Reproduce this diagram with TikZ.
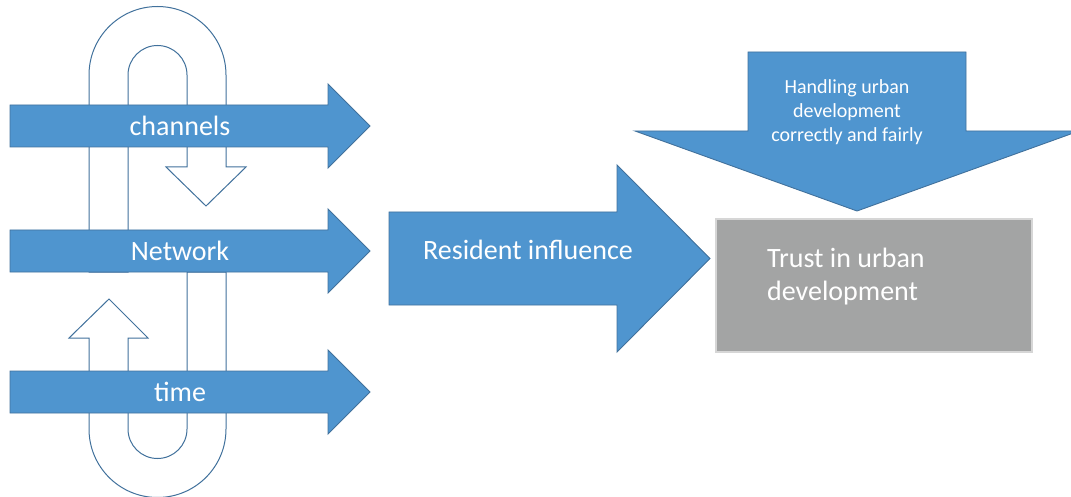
\documentclass[tikz,border=0pt]{standalone}
\usepackage{fontspec}
\setmainfont{Carlito}
\usetikzlibrary{positioning}
\definecolor{shapeblue}{RGB}{79,149,207}
\definecolor{edgeblue}{RGB}{65,113,156}
\definecolor{boxgrey}{RGB}{163,164,164}
\definecolor{boxedge}{RGB}{214,214,214}

\begin{document}
\begin{tikzpicture}[x=1pt,y=-1pt,
 flow/.style={fill=shapeblue,draw=edgeblue,line width=0.9pt},
 uturn/.style={fill=white,draw=edgeblue,line width=1pt},
 lbl/.style={text=white,inner sep=0pt,font=\fontsize{28}{33}\selectfont}]
\useasboundingbox (0,0) rectangle (1071,497);
\draw[uturn] (89,272) -- (89,75) arc[start angle=180,end angle=0,radius=68.5pt] -- (226,167) -- (246,167) -- (206,206) -- (166,167) -- (187,167) -- (187,75) arc[start angle=0,end angle=180,radius=29.5pt] -- (128,272) -- cycle;
\draw[uturn] (187,272) -- (187,429) arc[start angle=0,end angle=-180,radius=29.5pt] -- (128,338) -- (148,338) -- (109,299) -- (69,338) -- (89,338) -- (89,429) arc[start angle=180,end angle=360,radius=68.5pt] -- (226,272) -- cycle;
\foreach \y/\nm/\txt in {126/chan/channels,251/net/Network,392/time/time} {
 \draw[flow] (10,\y-21) -- (328,\y-21) -- (328,\y-42) -- (370,\y) -- (328,\y+42) -- (328,\y+21) -- (10,\y+21) -- cycle;
 \node[lbl,anchor=base] (\nm) at (180,\y+9.5) {\txt};
}
\draw[flow] (389,212) -- (617,212) -- (617,165) -- (710,258.5) -- (617,352) -- (617,305) -- (389,305) -- cycle;
\node[lbl,anchor=base] (res) at (528,259) {Resident influence};
\draw[flow] (748,52) -- (966,52) -- (966,131) -- (1079,131) -- (857,211) -- (635,131) -- (748,131) -- cycle;
\node[lbl,font=\fontsize{20}{24}\selectfont,align=center] (handling) at (847,112) {Handling urban\\development\\correctly and fairly};
\node[draw=boxedge,fill=boxgrey,line width=2pt,minimum width=316pt,minimum height=133pt,inner sep=0pt] (trust) at (874,285.5) {};
\node[lbl,align=left,anchor=north west] (trusttext) at (767,247.5) {Trust in urban\\development};
\end{tikzpicture}
\end{document}
